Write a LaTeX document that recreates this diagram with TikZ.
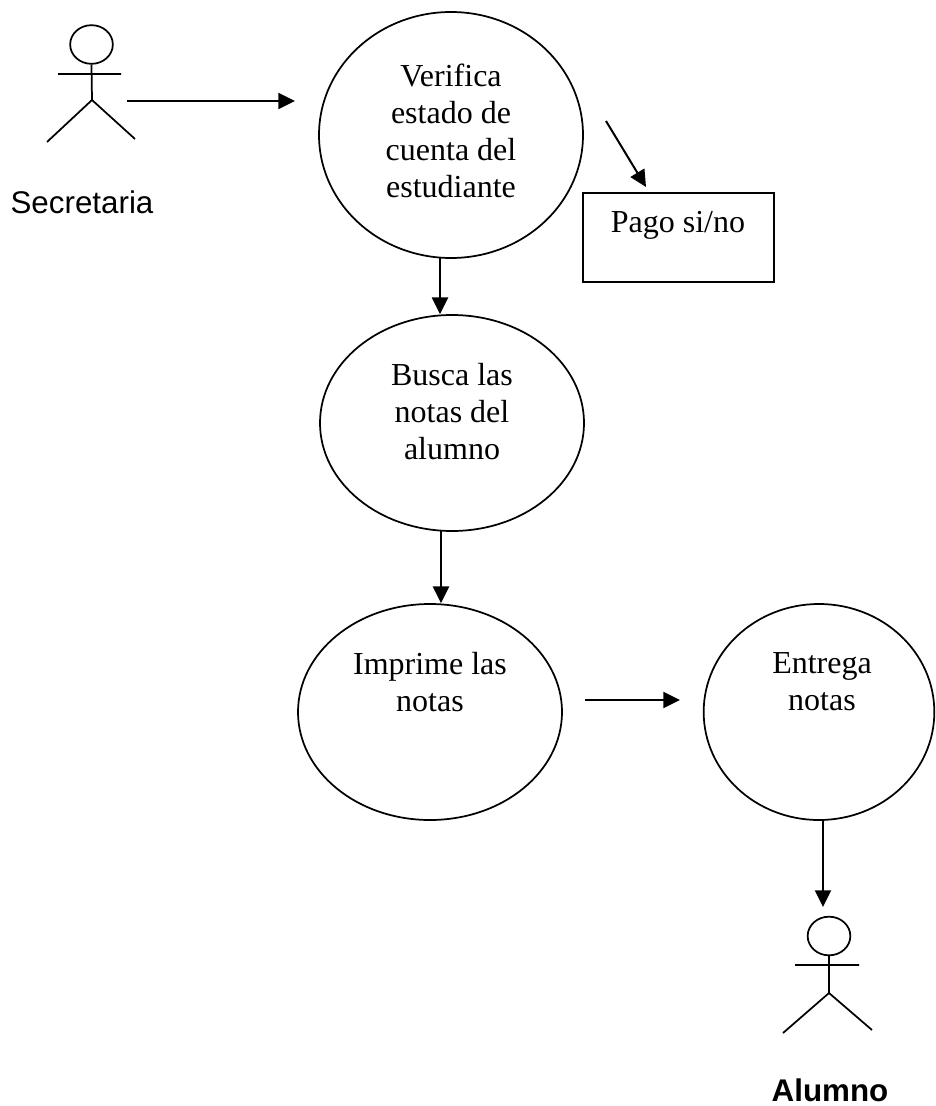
\documentclass[tikz,border=0pt]{standalone}
\usepackage{fontspec}
\setmainfont{Liberation Serif}
\newfontfamily\sansf{Liberation Sans}
\usetikzlibrary{arrows.meta,shapes.geometric}
\tikzset{
 bub/.style={draw,ellipse,line width=1.3pt,inner sep=0pt},
 txt/.style={font=\fontsize{24}{27.75}\selectfont,align=center,inner sep=0pt},
 conn/.style={line width=1.5pt,-{Triangle[length=12.5pt,width=12pt]}},
 fig/.style={line width=1.3pt},
 hd/.style={draw,ellipse,line width=1.3pt,minimum width=32pt,minimum height=29pt,inner sep=0pt},
 lab/.style={font=\sansf\fontsize{23.5}{27}\selectfont,inner sep=0pt}
}
\begin{document}
\begin{tikzpicture}[x=0.75pt,y=-0.75pt]
\useasboundingbox (0,0) rectangle (935,1106);
% circles
\node[bub,minimum width=198pt,minimum height=184.5pt] (v) at (451,135) {};
\node[bub,minimum width=198pt,minimum height=162pt] (b) at (452,423) {};
\node[bub,minimum width=198pt,minimum height=162pt] (i) at (430,712) {};
\node[bub,minimum width=173pt,minimum height=162pt] (e) at (819,712) {};
\node[draw,line width=1.5pt,minimum width=143pt,minimum height=66.5pt,inner sep=0pt] (p) at (678.5,237.5) {};
% texts
\node[txt] (tv) at (451,131) {Verifica\\estado de\\cuenta del\\estudiante};
\node[txt] (tp) at (678,225) {Pago si/no};
\node[txt] (tb) at (452,411.5) {Busca las\\notas del\\alumno};
\node[txt] (ti) at (430,682) {Imprime las\\notas};
\node[txt] (te) at (822,682) {Entrega\\notas};
% actor 1
\node[hd] (h1) at (91.5,44.5) {};
\coordinate (w1) at (92,100);
\coordinate (al1) at (47,142);
\coordinate (ar1) at (135,139);
\coordinate (hl1) at (58,74);
\coordinate (hr1) at (121,74);
\draw[fig] (h1.south) -- (w1) -- (al1) (w1) -- (ar1) (hl1) -- (hr1);
\node[lab] (s) at (82,202) {Secretaria};
% actor 2
\node[hd] (h2) at (829,936) {};
\coordinate (w2) at (829,993);
\coordinate (al2) at (783,1033);
\coordinate (ar2) at (872,1030);
\coordinate (hl2) at (795,965);
\coordinate (hr2) at (859,965);
\draw[fig] (h2.south) -- (w2) -- (al2) (w2) -- (ar2) (hl2) -- (hr2);
\node[lab,font=\sansf\bfseries\fontsize{23.5}{27}\selectfont] (a) at (830,1090) {Alumno};
% arrows
\coordinate (a1) at (127,101);
\coordinate (a2) at (295,101);
\draw[conn] (a1) -- (a2);
\coordinate (c1) at (606,121);
\coordinate (c2) at (646,187);
\draw[conn] (c1) -- (c2);
\coordinate (vb) at (440,258);
\draw[conn] (vb) -- (vb |- b.north);
\coordinate (bb) at (441,530);
\draw[conn] (bb) -- (bb |- i.north);
\coordinate (d1) at (585,700);
\coordinate (d2) at (680,700);
\draw[conn] (d1) -- (d2);
\coordinate (eb) at (823,820);
\coordinate (et) at (823,907);
\draw[conn] (eb) -- (et);
\end{tikzpicture}
\end{document}
